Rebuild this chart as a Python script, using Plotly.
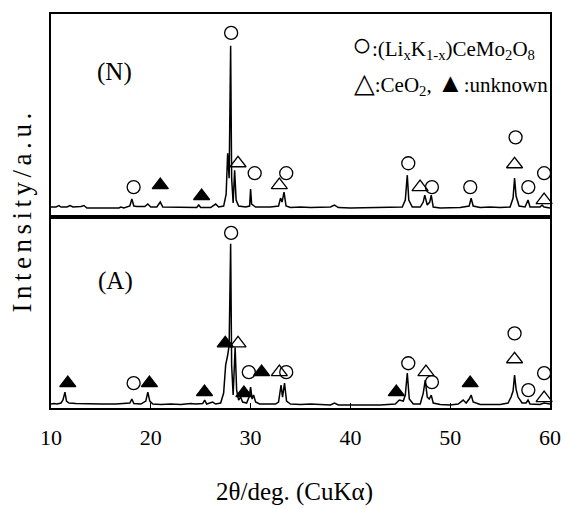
import plotly.graph_objects as go

# ---- XRD pattern (N) : 2theta (deg) and intensity (a.u.)
n_theta = [10.0, 10.5, 10.8, 11.0, 11.6, 11.9, 12.2, 13.0, 13.3, 13.6, 16.8, 17.0, 17.3, 17.6, 17.9,
           18.1, 18.3, 18.6, 19.4, 19.7, 20.0, 20.6, 20.95, 21.2, 24.6, 24.8, 25.0, 26.0, 26.5, 26.8,
           27.3, 27.55, 27.7, 27.85, 28.0, 28.1, 28.25, 28.4, 28.55, 28.8, 29.5, 29.9, 30.0, 30.1,
           30.5, 32.0, 32.8, 33.0, 33.15, 33.35, 33.55, 34.0, 35.0, 36.0, 37.0, 38.0, 38.4, 38.8,
           40.0, 42.0, 44.0, 45.2, 45.5, 45.7, 45.85, 46.2, 47.0, 47.3, 47.45, 47.7, 47.95, 48.1,
           48.3, 49.0, 51.0, 51.9, 52.1, 52.3, 53.0, 54.0, 55.0, 56.0, 56.3, 56.45, 56.6, 56.9,
           57.5, 57.8, 58.0, 59.0, 59.2, 59.4, 60.0]
n_int = [1, 1, 2.5, 1, 1, 2.5, 1, 1.5, 2.5, 0, 0, 1, 0, 1, 2,
         9, 2, 1.5, 1.5, 4, 1, 1, 6, 1, 0.5, 3, 0.5, 0.5, 4, 1,
         2, 14, 55, 30, 163, 30, 5, 38, 8, 2, 1, 2, 19, 4,
         1, 1, 2, 10, 6, 16, 2, 0.5, 1, 0.5, 1, 1, 3, 0.5,
         0, 0.5, 0.5, 1, 8, 33, 8, 1, 1, 6, 13, 3, 6, 13,
         1, 0, 0.5, 2, 10, 2, 0.5, 1, 0.5, 1, 10, 30, 12, 2,
         1, 8, 1, 1, 3, 1, 0]

# ---- XRD pattern (A)
a_theta = [10.0, 10.3, 10.6, 11.0, 11.2, 11.4, 11.55, 11.8, 12.5, 13.5, 15.0, 16.5, 17.5, 17.9, 18.1,
           18.3, 19.0, 19.5, 19.7, 19.9, 20.2, 21.0, 22.0, 23.0, 24.0, 24.5, 25.2, 25.4, 25.6, 26.2,
           26.5, 27.0, 27.3, 27.5, 27.7, 27.85, 28.0, 28.1, 28.25, 28.45, 28.6, 28.8, 29.0, 29.2,
           29.6, 29.85, 30.0, 30.15, 30.3, 30.5, 30.9, 31.5, 32.5, 32.8, 33.05, 33.2, 33.4, 33.6,
           34.0, 35.0, 36.0, 38.0, 38.4, 38.8, 40.0, 41.5, 43.0, 44.5, 44.9, 45.3, 45.5, 45.7,
           45.9, 46.3, 47.0, 47.3, 47.5, 47.7, 47.9, 48.1, 48.3, 49.0, 50.0, 50.8, 51.3, 51.6,
           51.9, 52.1, 52.3, 53.0, 55.0, 55.8, 56.1, 56.3, 56.45, 56.6, 56.8, 57.2, 57.6, 57.8,
           58.0, 59.0, 59.4, 60.0]
a_int = [1, 1.5, 1, 2, 5, 13, 4, 2, 1.5, 1, 1, 1, 1.5, 2, 6,
         1.5, 1, 4, 13, 4, 1, 0.5, 1, 0.5, 1.5, 1, 1.5, 5, 1, 3,
         1, 2, 12, 40, 50, 60, 162, 40, 10, 58, 15, 5, 8, 3,
         2, 8, 18, 6, 10, 3, 1, 1, 1, 3, 20, 8, 22, 4,
         1, 0.5, 1, 0, 2, 0, 0, 0, 0, 1, 5, 4, 10, 32,
         6, 1, 1, 12, 25, 8, 6, 10, 2, 0.5, 0, 1, 5, 2,
         6, 10, 3, 0.5, 0.5, 2, 8, 14, 30, 16, 8, 2, 2, 5,
         1, 0.5, 2, 1]

# ---- phase markers, pattern (N)
n_circ_x = [18.28, 28.05, 30.41, 33.57, 45.80, 48.17, 52.01, 56.55, 57.83, 59.41]
n_circ_y = [21, 176, 35, 35, 45, 21, 21, 71, 21, 35]
n_otri_x = [28.74, 32.88, 46.98, 56.45, 59.41]
n_otri_y = [45, 23, 21, 44, 8]
n_ftri_x = [20.95, 25.09]
n_ftri_y = [23, 12]

# ---- phase markers, pattern (A)
a_circ_x = [18.28, 28.05, 29.82, 33.57, 45.80, 48.17, 56.45, 57.83, 59.41]
a_circ_y = [22, 173, 33, 33, 42, 23, 72, 15, 32]
a_otri_x = [28.74, 32.88, 47.57, 56.45, 59.41]
a_otri_y = [62, 33, 33, 46, 7]
a_ftri_x = [11.68, 19.86, 25.38, 27.46, 29.33, 31.10, 44.60, 52.00]
a_ftri_y = [22, 22, 13, 62, 12, 33, 13, 22]

x_ticks = [10, 20, 30, 40, 50, 60]

FONT = "Liberation Serif, DejaVu Serif, serif"
K = "black"

fig = go.Figure()

def add_pattern(tx, ty, xa, ya):
    fig.add_trace(go.Scatter(x=tx, y=ty, mode="lines", line=dict(color=K, width=1.5),
                             xaxis=xa, yaxis=ya, showlegend=False, hoverinfo="skip"))

def add_marks(xs, ys, symbol, xa, ya, size=14):
    fig.add_trace(go.Scatter(x=xs, y=ys, mode="markers", xaxis=xa, yaxis=ya, cliponaxis=False,
                             marker=dict(symbol=symbol, size=size, color=K,
                                         line=dict(color=K, width=1.3)),
                             showlegend=False, hoverinfo="skip"))

# top panel (N)
add_pattern(n_theta, n_int, "x2", "y2")
add_marks(n_circ_x, n_circ_y, "circle-open", "x2", "y2", 13)
add_marks(n_otri_x, n_otri_y, "triangle-up-open", "x2", "y2")
add_marks(n_ftri_x, n_ftri_y, "triangle-up", "x2", "y2")
# bottom panel (A)
add_pattern(a_theta, a_int, "x", "y")
add_marks(a_circ_x, a_circ_y, "circle-open", "x", "y", 13)
add_marks(a_otri_x, a_otri_y, "triangle-up-open", "x", "y")
add_marks(a_ftri_x, a_ftri_y, "triangle-up", "x", "y")

split = 192 / 396

fig.update_layout(
    width=573, height=509,
    margin=dict(l=51, r=15, t=12, b=101),
    paper_bgcolor="white", plot_bgcolor="white",
    font=dict(family=FONT, color=K, size=21),
    xaxis=dict(domain=[0, 1], anchor="y", range=[10, 60], tickvals=x_ticks,
               ticks="inside", ticklen=5, tickcolor=K, showline=True, linecolor=K, linewidth=1.6,
               mirror=True, showgrid=False, zeroline=False, ticklabelstandoff=9,
               tickfont=dict(family=FONT, size=22, color=K)),
    xaxis2=dict(domain=[0, 1], anchor="y2", matches="x", range=[10, 60], showticklabels=False,
                ticks="", showline=True, linecolor=K, linewidth=1.6, mirror=True,
                showgrid=False, zeroline=False),
    yaxis=dict(domain=[0, split], anchor="x", range=[-3, 189], showticklabels=False, ticks="",
               showline=True, linecolor=K, linewidth=1.6, mirror=True, showgrid=False, zeroline=False),
    yaxis2=dict(domain=[split, 1], anchor="x2", range=[-9, 195], showticklabels=False, ticks="",
                showline=True, linecolor=K, linewidth=1.6, mirror=True, showgrid=False, zeroline=False),
)

T = "\u200a\u200a"
ytitle = T.join(list("Intensity/a.u."))

fig.add_annotation(text=ytitle, xref="paper", yref="paper", x=-29/507, y=(408 - 211) / 396,
                   textangle=-90, showarrow=False, font=dict(family=FONT, size=27, color=K),
                   xanchor="center", yanchor="middle")
fig.add_annotation(text="2θ/deg. (CuKα)", xref="paper", yref="paper", x=0.487, y=-84/396,
                   showarrow=False, font=dict(family=FONT, size=25, color=K),
                   xanchor="center", yanchor="middle")
fig.add_annotation(text="(N)", xref="x2", yref="y2", x=16.4, y=137, showarrow=False,
                   font=dict(family=FONT, size=25, color=K))
fig.add_annotation(text="(A)", xref="x", yref="y", x=16.5, y=125, showarrow=False,
                   font=dict(family=FONT, size=25, color=K))
BIG = '<span style="font-size:{}px">{}</span>'
fig.add_annotation(text=BIG.format(33, "○") + ":(Li<sub>x</sub>K<sub>1-x</sub>)CeMo<sub>2</sub>O<sub>8</sub>",
                   xref="paper", yref="paper", x=(355 - 51) / 507, y=(408 - 43) / 396,
                   xanchor="left", yanchor="middle", showarrow=False,
                   font=dict(family=FONT, size=21, color=K))
fig.add_annotation(text=BIG.format(27, "△") + ":CeO<sub>2</sub>, " + BIG.format(27, "▲") + ":unknown",
                   xref="paper", yref="paper", x=(357 - 51) / 507, y=(408 - 82) / 396,
                   xanchor="left", yanchor="middle", showarrow=False,
                   font=dict(family=FONT, size=21, color=K))

fig.write_html("out.html")
